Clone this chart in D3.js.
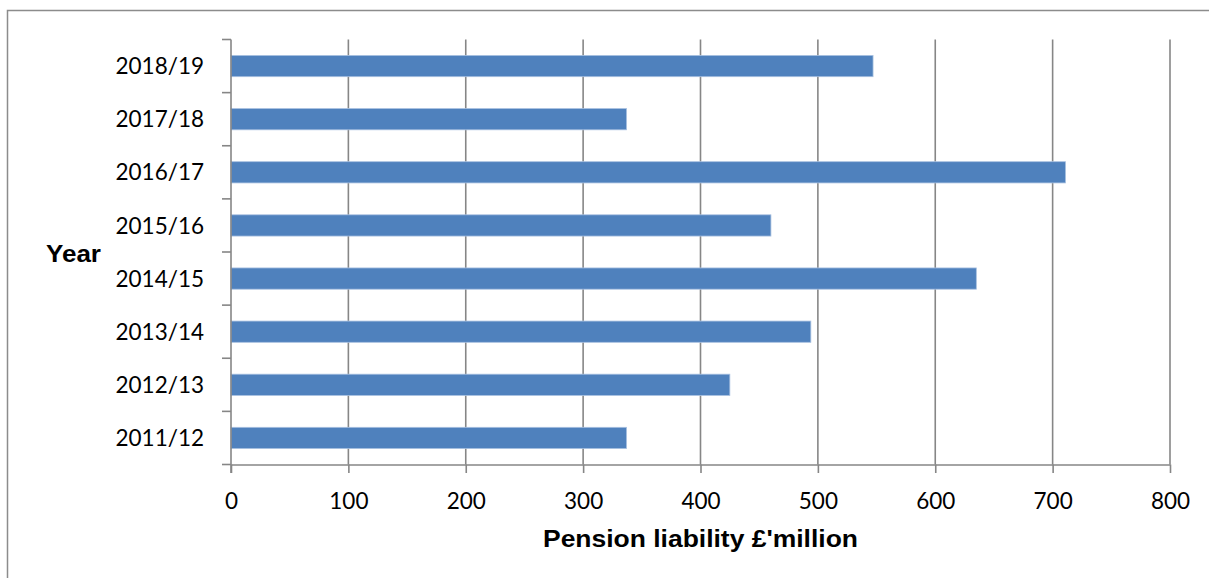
<!DOCTYPE html>
<html>
<head>
<meta charset="utf-8">
<script src="https://cdn.jsdelivr.net/npm/d3@7"></script>
<style>
  html, body { margin: 0; padding: 0; background: #fff; }
  svg { display: block; }
</style>
</head>
<body>
<svg id="chart" width="1209" height="578"></svg>
<script>
const categories = ["2018/19", "2017/18", "2016/17", "2015/16", "2014/15", "2013/14", "2012/13", "2011/12"];
const values = [547, 337, 711, 460, 635, 494, 425, 337];
const xTicks = [0, 100, 200, 300, 400, 500, 600, 700, 800];
const xTitle = "Pension liability £'million";
const yTitle = "Year";

(function () {
const svg = d3.select("#chart");
const gridColor = "#868686";
const barColor = "#4F81BD";
const pLeft = 231, pRight = 1170, pTop = 39.5, pBottom = 464.5;
const labelFont = "Lato, 'Open Sans', sans-serif";

// outer frame
svg.append("path")
  .attr("d", `M7.5,600 L7.5,10.5 L1300,10.5`)
  .attr("fill", "none").attr("stroke", "#8c8c8c").attr("stroke-width", 1.5);

const x = d3.scaleLinear().domain([0, 800]).range([pLeft, pRight]);
const y = d3.scaleBand().domain(categories).range([pTop, pBottom])
  .paddingInner(0.6).paddingOuter(0.3);

// gridlines
svg.append("g").selectAll("line").data(xTicks.filter(d => d > 0)).join("line")
  .attr("x1", d => x(d)).attr("x2", d => x(d))
  .attr("y1", pTop).attr("y2", pBottom)
  .attr("stroke", gridColor).attr("stroke-width", 1.6);

// bars
svg.append("g").selectAll("rect").data(categories).join("rect")
  .attr("x", x(0))
  .attr("y", (d) => y(d))
  .attr("width", (d, i) => x(values[i]) - x(0))
  .attr("height", y.bandwidth())
  .attr("fill", barColor)
  .attr("stroke", "#a9c1e0").attr("stroke-width", 0.8);

// x axis
const xAxis = svg.append("g").attr("transform", `translate(0,${pBottom})`)
  .call(d3.axisBottom(x).tickValues(xTicks).tickSize(8.5).tickSizeOuter(0));
xAxis.select(".domain").attr("stroke", gridColor).attr("stroke-width", 1.6);
xAxis.selectAll(".tick line").attr("stroke", gridColor).attr("stroke-width", 1.6);
xAxis.selectAll(".tick text")
  .attr("y", 44).attr("dy", 0)
  .attr("fill", "#000")
  .style("font-family", labelFont)
  .style("font-size", "22.5px");

// y axis
const yAxis = svg.append("g").attr("transform", `translate(${pLeft},0)`)
  .call(d3.axisLeft(y).tickSize(0).tickPadding(27).tickSizeOuter(0));
yAxis.select(".domain").remove();
yAxis.selectAll(".tick text")
  .attr("dy", "0.36em")
  .attr("fill", "#000")
  .style("font-family", labelFont)
  .style("font-size", "22.5px");
svg.append("line")
  .attr("x1", pLeft).attr("x2", pLeft).attr("y1", pTop).attr("y2", pBottom + 8.5)
  .attr("stroke", gridColor).attr("stroke-width", 1.6);
// category boundary ticks
const boundaries = categories.map(c => y(c) - y.step() * 0.3).concat([pBottom]);
svg.append("g").selectAll("line").data(boundaries).join("line")
  .attr("x1", pLeft - 9).attr("x2", pLeft)
  .attr("y1", d => d).attr("y2", d => d)
  .attr("stroke", gridColor).attr("stroke-width", 1.6);

// titles
svg.append("text")
  .attr("x", (pLeft + pRight) / 2).attr("y", 547)
  .attr("text-anchor", "middle")
  .attr("textLength", 315).attr("lengthAdjust", "spacingAndGlyphs")
  .style("font-family", "'Liberation Sans', Arial, sans-serif")
  .style("font-weight", "bold").style("font-size", "23px")
  .text(xTitle);

svg.append("text")
  .attr("x", 46).attr("y", 261.5)
  .attr("textLength", 55).attr("lengthAdjust", "spacingAndGlyphs")
  .style("font-family", "'Liberation Sans', Arial, sans-serif")
  .style("font-weight", "bold").style("font-size", "23px")
  .text(yTitle);
})();
</script>
</body>
</html>
